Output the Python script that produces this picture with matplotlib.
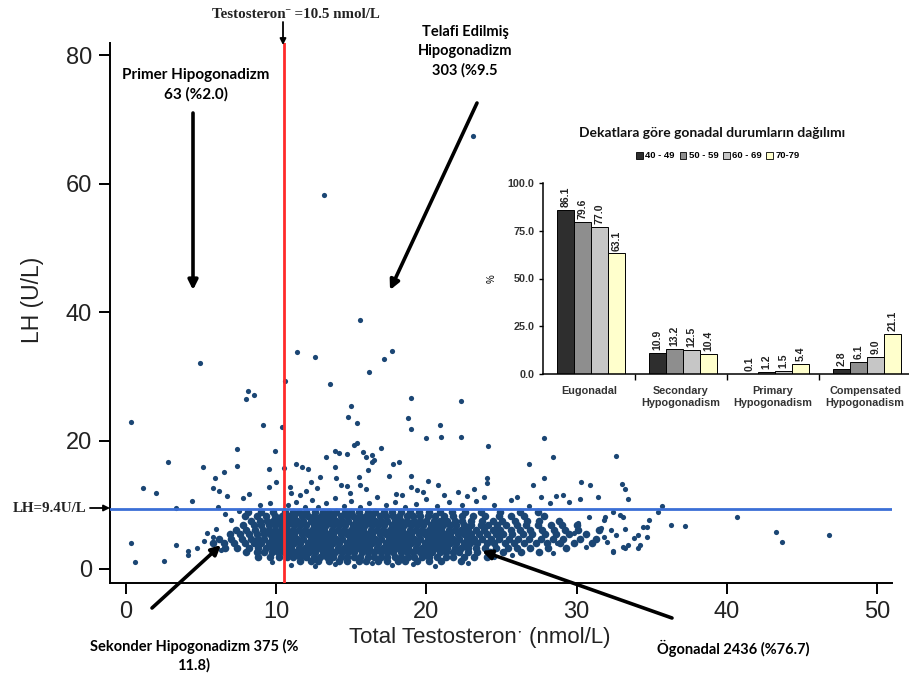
import matplotlib
matplotlib.use("Agg")
import matplotlib.pyplot as plt
from matplotlib.patches import Patch
import numpy as np

# ---- scatter data: total testosterone (nmol/L) vs LH (U/L) ----
# dense body of the cloud, read row by row (LH level, testosterone values)
cloud_lh = [1.2, 1.9, 2.6, 3.3, 4.0, 4.7, 5.4, 6.1, 6.8, 7.5, 8.2, 8.9]
cloud_tt = [
    [11.6, 12.3, 12.8, 13.5, 14.2, 14.7, 15.5, 16.0, 16.8, 17.4, 18.1, 18.6, 19.4, 20.2, 21.0, 22.3],
    [8.8, 9.6, 10.2, 10.7, 11.1, 11.6, 12.0, 12.5, 12.9, 13.4, 13.8, 14.3, 14.7, 15.2, 15.6, 16.1,
     16.5, 17.0, 17.4, 17.9, 18.3, 18.8, 19.2, 19.7, 20.2, 20.7, 21.3, 21.8, 22.5, 23.2, 24.0],
    [8.0, 8.7, 9.2, 9.7, 10.1, 10.5, 10.9, 11.3, 11.8, 12.2, 12.6, 13.1, 13.5, 13.9, 14.4, 14.8,
     15.2, 15.7, 16.1, 16.5, 17.0, 17.4, 17.8, 18.3, 18.7, 19.1, 19.6, 20.0, 20.4, 20.9, 21.3, 21.8,
     22.2, 22.8, 23.4, 24.2, 25.1, 26.3, 27.5],
    [6.6, 7.4, 8.2, 8.8, 9.3, 9.8, 10.2, 10.6, 11.0, 11.5, 11.9, 12.3, 12.8, 13.2, 13.6, 14.1,
     14.5, 14.9, 15.4, 15.8, 16.2, 16.7, 17.1, 17.5, 18.0, 18.4, 18.8, 19.3, 19.7, 20.1, 20.6, 21.0,
     21.4, 21.9, 22.3, 22.8, 23.3, 23.9, 24.6, 25.4, 26.0, 26.9, 28.1, 29.3],
    [5.8, 6.5, 7.2, 7.9, 8.5, 9.0, 9.5, 9.9, 10.3, 10.8, 11.2, 11.6, 12.1, 12.5, 12.9, 13.4,
     13.8, 14.2, 14.7, 15.1, 15.5, 16.0, 16.4, 16.8, 17.3, 17.7, 18.1, 18.6, 19.0, 19.4, 19.9, 20.3,
     20.7, 21.2, 21.6, 22.0, 22.5, 22.9, 23.4, 24.0, 24.5, 25.2, 25.8, 26.5, 27.3, 28.0, 28.9, 29.8, 31.0],
    [6.2, 7.0, 7.7, 8.3, 8.8, 9.2, 9.7, 10.1, 10.5, 11.0, 11.4, 11.8, 12.3, 12.7, 13.1, 13.6,
     14.0, 14.4, 14.9, 15.3, 15.7, 16.2, 16.6, 17.0, 17.5, 17.9, 18.3, 18.8, 19.2, 19.6, 20.1, 20.5,
     20.9, 21.4, 21.8, 22.2, 22.7, 23.2, 23.7, 24.3, 24.8, 25.5, 26.1, 26.8, 27.6, 28.4, 29.1, 30.2, 31.3],
    [6.9, 7.6, 8.2, 8.7, 9.2, 9.6, 10.0, 10.4, 10.8, 11.2, 11.7, 12.1, 12.5, 13.0, 13.4, 13.8,
     14.3, 14.7, 15.1, 15.6, 16.0, 16.4, 16.9, 17.3, 17.7, 18.2, 18.6, 19.0, 19.5, 19.9, 20.3, 20.8,
     21.2, 21.6, 22.1, 22.5, 23.0, 23.5, 24.0, 24.6, 25.1, 25.7, 26.4, 27.0, 27.9, 28.6, 29.5, 30.6],
    [7.3, 8.0, 8.6, 9.1, 9.5, 9.9, 10.3, 10.7, 11.1, 11.5, 11.9, 12.4, 12.8, 13.2, 13.7, 14.1,
     14.5, 15.0, 15.4, 15.8, 16.3, 16.7, 17.1, 17.6, 18.0, 18.4, 18.9, 19.3, 19.7, 20.2, 20.6, 21.0,
     21.5, 21.9, 22.3, 22.8, 23.3, 23.8, 24.4, 24.9, 25.6, 26.2, 26.9, 27.7, 28.5, 29.2, 30.1, 31.5],
    [7.8, 8.5, 9.0, 9.5, 9.9, 10.3, 10.7, 11.2, 11.6, 12.0, 12.5, 12.9, 13.3, 13.8, 14.2, 14.6,
     15.1, 15.5, 15.9, 16.4, 16.8, 17.2, 17.7, 18.1, 18.5, 19.0, 19.4, 19.8, 20.3, 20.7, 21.1, 21.6,
     22.0, 22.5, 23.0, 23.6, 24.1, 24.7, 25.3, 26.0, 26.6, 27.4, 28.3, 29.0, 30.0],
    [8.3, 8.9, 9.4, 9.8, 10.2, 10.6, 11.0, 11.4, 11.8, 12.3, 12.7, 13.1, 13.5, 14.0, 14.4, 14.8,
     15.3, 15.7, 16.1, 16.6, 17.0, 17.4, 17.9, 18.3, 18.7, 19.2, 19.6, 20.0, 20.5, 20.9, 21.4, 21.9,
     22.4, 23.0, 23.7, 24.4, 25.0, 25.9, 26.7, 27.5, 28.8],
    [7.9, 8.7, 9.3, 9.9, 10.4, 10.8, 11.2, 11.7, 12.1, 12.5, 13.0, 13.4, 13.8, 14.3, 14.7, 15.1,
     15.6, 16.0, 16.4, 16.9, 17.3, 17.8, 18.2, 18.7, 19.1, 19.6, 20.1, 20.6, 21.2, 21.8, 22.4, 23.1,
     23.9, 24.8, 25.6, 26.5, 27.8],
    [8.1, 9.0, 9.8, 10.6, 11.1, 11.5, 12.0, 12.6, 13.1, 13.5, 14.0, 14.6, 15.0, 15.5, 16.1, 16.6,
     17.2, 17.7, 18.3, 18.9, 19.5, 20.2, 20.9, 21.7, 22.6, 23.6, 24.9, 26.2, 27.4],
]

# single points (testosterone, LH)
high_points = [
    (23.1, 67.4), (13.2, 58.2), (4.9, 32.1), (15.6, 38.8), (11.4, 33.8), (12.6, 33.0),
    (17.7, 33.9), (17.2, 32.7), (16.2, 30.7), (10.6, 29.3), (13.6, 28.8), (8.1, 27.7),
    (8.5, 27.1), (8.0, 26.5), (15.0, 25.4), (19.0, 26.6), (22.3, 26.1), (0.3, 22.9),
    (14.8, 23.7), (15.4, 22.7), (9.1, 22.4), (10.4, 22.1), (18.8, 23.5), (19.0, 21.8),
    (20.9, 22.4), (20.0, 20.4), (21.0, 20.6), (22.3, 20.6), (24.1, 19.1), (27.8, 20.4),
    (28.4, 17.4), (32.6, 17.6), (26.8, 16.3),
]
mid_points = [
    (7.4, 18.7), (9.9, 18.4), (2.8, 16.7), (5.1, 15.9), (7.4, 16.0), (6.5, 15.1), (9.5, 15.6),
    (5.9, 14.2), (1.1, 12.6), (2.0, 11.8), (5.8, 12.6), (6.2, 12.1), (6.7, 11.4), (8.2, 11.7),
    (7.8, 11.1), (4.4, 10.6), (6.1, 9.7), (3.3, 9.5), (9.5, 12.8), (10.0, 13.5), (10.5, 15.7),
    (11.3, 16.3), (11.7, 15.9), (12.1, 15.6), (10.9, 12.8), (11.6, 11.5), (12.3, 13.5),
    (12.7, 12.6), (13.3, 17.4), (13.9, 18.4), (14.2, 18.0), (14.7, 17.9), (15.2, 19.3),
    (15.4, 19.6), (15.8, 18.2), (16.0, 17.4), (16.5, 17.0), (16.1, 15.4), (15.5, 14.3),
    (13.9, 15.9), (14.0, 14.2), (14.3, 13.1), (14.7, 12.9), (15.6, 13.1), (12.9, 14.3),
    (16.4, 17.7), (16.4, 16.7), (17.0, 18.8), (17.8, 16.3), (18.2, 16.7), (17.5, 14.5),
    (19.0, 14.5), (20.1, 13.7), (20.8, 13.1), (24.0, 14.2), (24.0, 13.4), (27.8, 14.2),
    (27.1, 13.1), (30.3, 13.5), (30.9, 13.1), (33.0, 13.2), (33.2, 12.5), (33.4, 10.9),
    (31.4, 11.2), (30.2, 10.9), (29.1, 11.5), (28.6, 11.4), (27.6, 11.2), (26.0, 11.2),
    (23.2, 12.5), (22.1, 12.0), (23.8, 11.2), (22.7, 11.4), (19.4, 12.3), (19.0, 12.8),
    (18.4, 11.5),
]
edge_points = [
    (10.8, 9.9), (11.3, 10.4), (11.9, 9.7), (12.4, 10.8), (12.8, 9.6), (13.3, 10.2), (13.9, 11.0),
    (14.5, 9.8), (15.0, 10.6), (15.6, 9.7), (16.2, 10.3), (16.7, 11.2), (17.3, 9.9), (17.9, 10.5),
    (18.6, 9.7), (19.3, 10.1), (20.0, 10.9), (20.7, 9.8), (21.5, 10.4), (22.4, 9.9), (23.3, 10.6),
    (24.5, 9.9), (25.6, 10.8), (26.8, 9.8), (28.2, 10.2), (29.5, 10.5), (11.0, 11.8), (12.0, 12.2),
    (14.9, 11.9), (16.0, 12.4), (18.0, 11.7), (19.8, 12.0), (21.2, 11.5), (9.6, 10.2), (8.9, 9.9),
    (11.0, 0.7), (12.6, 0.5), (13.9, 0.8), (15.2, 0.4), (16.4, 0.9), (17.7, 0.6), (19.1, 0.8),
    (20.6, 0.5), (9.7, 1.1), (22.8, 1.0), (24.5, 1.8), (25.7, 2.2),
    (0.3, 4.0), (0.6, 1.1), (2.5, 1.2), (3.3, 3.7), (4.1, 2.8), (4.1, 2.2), (4.7, 3.3),
    (5.2, 4.4), (5.8, 5.0), (6.3, 3.0), (6.0, 6.2), (5.4, 5.6), (7.0, 7.6), (6.6, 8.6), (7.5, 9.0),
]
right_points = [
    (28.4, 2.5), (28.7, 4.0), (29.8, 5.6), (30.6, 3.4), (31.8, 5.0), (32.4, 2.6), (33.1, 3.4),
    (34.2, 3.7), (34.7, 6.5), (31.8, 7.6), (32.9, 8.4), (30.8, 8.1), (31.6, 6.4), (30.1, 7.2),
    (35.7, 9.8), (35.4, 8.9), (34.8, 7.6), (36.3, 6.8), (37.2, 6.7), (40.7, 8.1), (43.3, 5.8),
    (43.7, 4.2), (46.8, 5.3), (34.4, 6.6), (34.7, 5.0), (34.1, 5.3), (33.8, 4.8), (33.4, 3.7),
    (34.1, 3.3), (33.2, 3.3), (32.4, 2.8), (32.0, 4.2), (32.6, 5.3), (32.3, 6.1), (33.2, 6.2),
    (33.1, 8.1), (31.9, 8.1), (32.4, 8.9),
]

tt_cut = 10.5
lh_cut = 9.4

# ---- inset bar data ----
categories = ["Eugonadal", "Secondary\nHypogonadism", "Primary\nHypogonadism", "Compensated\nHypogonadism"]
age_groups = ["40 - 49", "50 - 59", "60 - 69", "70-79"]
pct_40 = [86.1, 10.9, 0.1, 2.8]
pct_50 = [79.6, 13.2, 1.2, 6.1]
pct_60 = [77.0, 12.5, 1.5, 9.0]
pct_70 = [63.1, 10.4, 5.4, 21.1]
bar_colors = ["#2e2e2e", "#8e8e8e", "#c6c6c6", "#ffffcc"]

sans = ["Liberation Sans", "DejaVu Sans"]
W, H = 909, 677

def fp(x, y):
    # figure pixels measured from top-left
    return (x, H - y)

fig = plt.figure(figsize=(W / 100, H / 100), dpi=100)
ax = fig.add_axes([110 / W, 94 / H, 782 / W, 540 / H])

cloud_x, cloud_y = [], []
for lh, row in zip(cloud_lh, cloud_tt):
    cloud_x += row
    cloud_y += [lh] * len(row)
ax.scatter(cloud_x, cloud_y, s=30, color="#1b4674", linewidths=0, zorder=2)

xs, ys = [], []
for grp in (high_points, mid_points, edge_points, right_points):
    xs += [p[0] for p in grp]
    ys += [p[1] for p in grp]
ax.scatter(xs, ys, s=14, color="#1b4674", linewidths=0, zorder=2)

ax.axvline(tt_cut, color="#ff2a2a", lw=2, zorder=3)
ax.axhline(lh_cut, color="#3b6fd6", lw=2, zorder=3)

ax.set_xlim(-1.07, 51.0)
ax.set_ylim(-2.18, 81.9)
ax.set_xticks([0, 10, 20, 30, 40, 50])
ax.set_yticks([0, 20, 40, 60, 80])
for s in ("top", "right"):
    ax.spines[s].set_visible(False)
for s in ("left", "bottom"):
    ax.spines[s].set_linewidth(1.4)
ax.tick_params(direction="out", length=8, width=1.4, labelsize=17, pad=5)
for lab in ax.get_xticklabels() + ax.get_yticklabels():
    lab.set_family(sans)
    lab.set_color("#222222")
ax.set_xlabel("Total Testosteron\u02d1 (nmol/L)", fontsize=16, family=sans, color="#222222", va="center")
ax.set_ylabel("LH (U/L)", fontsize=16.5, family=sans, color="#222222", va="center")
ax.xaxis.set_label_coords((480 - 110) / 782, (583 - 638) / 540)
ax.yaxis.set_label_coords((32 - 110) / 782, (583 - 300) / 540)

# ---- annotations ----
arrow = dict(arrowstyle="-|>", color="black", lw=2.6, mutation_scale=14, shrinkA=0, shrinkB=0)
ann_font = dict(family=["Lato", "DejaVu Sans"], fontweight="bold", fontsize=10.5, color="black")

ax.annotate("", xy=fp(193, 290), xytext=fp(193, 113), xycoords="figure pixels",
            textcoords="figure pixels", arrowprops=arrow, annotation_clip=False)
ax.annotate("", xy=fp(390, 290), xytext=fp(477, 103), xycoords="figure pixels",
            textcoords="figure pixels", arrowprops=arrow, annotation_clip=False)
ax.annotate("", xy=fp(221, 545), xytext=fp(152, 608), xycoords="figure pixels",
            textcoords="figure pixels", arrowprops=arrow, annotation_clip=False)
ax.annotate("", xy=fp(482, 551), xytext=fp(672, 618), xycoords="figure pixels",
            textcoords="figure pixels", arrowprops=arrow, annotation_clip=False)
thin = dict(arrowstyle="-|>", color="black", lw=1.3, mutation_scale=9, shrinkA=0, shrinkB=0)
ax.annotate("", xy=fp(283, 45), xytext=fp(283, 22), xycoords="figure pixels",
            textcoords="figure pixels", arrowprops=thin, annotation_clip=False)
ax.annotate("", xy=fp(110, 508), xytext=fp(90, 508), xycoords="figure pixels",
            textcoords="figure pixels", arrowprops=thin, annotation_clip=False)

fig.text(196 / W, 1 - 85 / H, "Primer Hipogonadizm\n63 (%2.0)", ha="center", va="center",
         linespacing=1.45, family=["Lato", "DejaVu Sans"], fontweight="bold", fontsize=11, color="black")
fig.text(465 / W, 1 - 51 / H, "Telafi Edilmiş\nHipogonadizm\n303 (%9.5", ha="center", va="center",
         linespacing=1.45, **ann_font)
fig.text(194 / W, 1 - 656 / H, "Sekonder Hipogonadizm 375 (%\n11.8)", ha="center", va="center",
         linespacing=1.35, **ann_font)
fig.text(733 / W, 1 - 648 / H, "Ögonadal 2436 (%76.7)", ha="center", va="center", **ann_font)

serif = dict(family=["Liberation Serif", "DejaVu Serif"], fontweight="bold", fontsize=10.8, color="#222222")
fig.text(296 / W, 1 - 14 / H, "Testosteron\u02c9 =10.5 nmol/L", ha="center", va="center", **serif)
fig.text(86 / W, 1 - 508 / H, "LH=9.4U/L", ha="right", va="center", **serif)

# ---- inset bar chart ----
bx = fig.add_axes([543 / W, 303 / H, 368 / W, 191 / H])
bx.set_facecolor("white")
pos = np.arange(len(categories))
width = 0.185
for k, vals in enumerate([pct_40, pct_50, pct_60, pct_70]):
    x = pos + (k - 1.5) * width + 0.02
    bx.bar(x, vals, width=width, color=bar_colors[k], edgecolor="black", linewidth=0.7, zorder=2)
    for xi, v in zip(x, vals):
        bx.text(xi, v + 1.5, f"{v:.1f}", rotation=90, ha="center", va="bottom",
                fontsize=7.5, fontweight="bold", family=sans, color="#222222")

bx.set_xlim(-0.5, 3.5)
bx.set_ylim(0, 100)
bx.set_yticks([0, 25, 50, 75, 100])
bx.set_yticklabels([f"{v:.1f}" for v in [0, 25, 50, 75, 100]])
bx.set_xticks(pos)
bx.set_xticklabels(categories)
bx.set_xticks([0.5, 1.5, 2.5], minor=True)
bx.tick_params(axis="x", which="major", length=0, pad=9)
bx.tick_params(axis="x", which="minor", length=4, width=1, direction="out")
bx.tick_params(axis="y", length=3, width=1, direction="out", pad=3)
for lab in bx.get_xticklabels() + bx.get_yticklabels():
    lab.set_family(sans)
    lab.set_fontsize(7.8)
    lab.set_fontweight("bold")
    lab.set_color("#333333")
for s in ("top", "right"):
    bx.spines[s].set_visible(False)
for s in ("left", "bottom"):
    bx.spines[s].set_linewidth(1.1)
bx.set_ylabel("%", fontsize=7, family=sans, labelpad=8)

fig.text(712 / W, 1 - 133 / H, "Dekatlara göre gonadal durumların dağılımı", ha="center", va="center",
         family=["Lato", "DejaVu Sans"], fontweight="bold", fontsize=10, color="#111111")
handles = [Patch(facecolor=c, edgecolor="black", linewidth=0.6) for c in bar_colors]
leg = fig.legend(handles, age_groups, loc="center", bbox_to_anchor=(718 / W, 1 - 156 / H), ncol=4,
                 frameon=False, handlelength=0.7, handleheight=0.7, handletextpad=0.25,
                 columnspacing=0.5, prop=dict(family=sans, size=6.8, weight="bold"))

fig.savefig("out.png", dpi=100)
